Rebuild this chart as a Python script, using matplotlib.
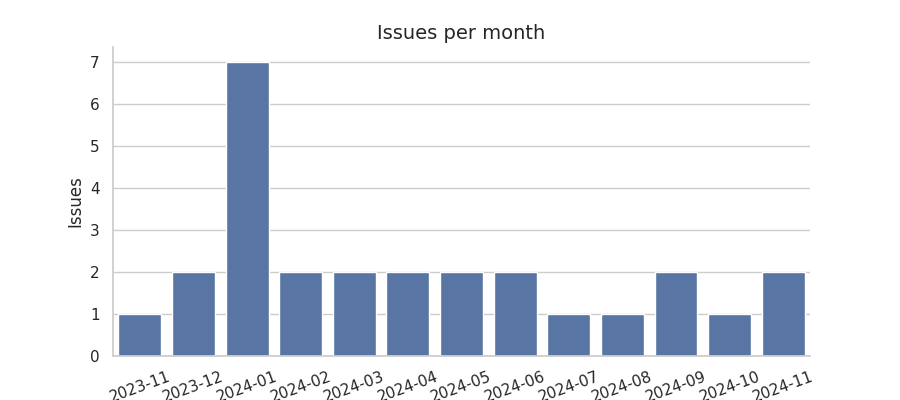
import matplotlib
matplotlib.use('Agg')
import matplotlib.pyplot as plt
import seaborn as sns
import pandas as pd

# Monthly issue counts
months = ['2023-11', '2023-12', '2024-01', '2024-02', '2024-03', '2024-04', '2024-05',
          '2024-06', '2024-07', '2024-08', '2024-09', '2024-10', '2024-11']
issues = [1, 2, 7, 2, 2, 2, 2, 2, 1, 1, 2, 1, 2]

sns.set_theme(style='whitegrid')
df = pd.DataFrame({'month': months, 'issues': issues})

fig = plt.figure(figsize=(9, 4), dpi=100)
ax = fig.add_axes([0.1256, 0.11, 0.7744, 0.7725])
sns.barplot(data=df, x='month', y='issues', color='#4C72B0', ax=ax)
sns.despine(ax=ax)

ax.set_title('Issues per month', fontsize=14)
ax.set_xlabel('')
ax.set_ylabel('Issues')
ax.tick_params(axis='x', rotation=20)

fig.savefig('out.png', dpi=100)
